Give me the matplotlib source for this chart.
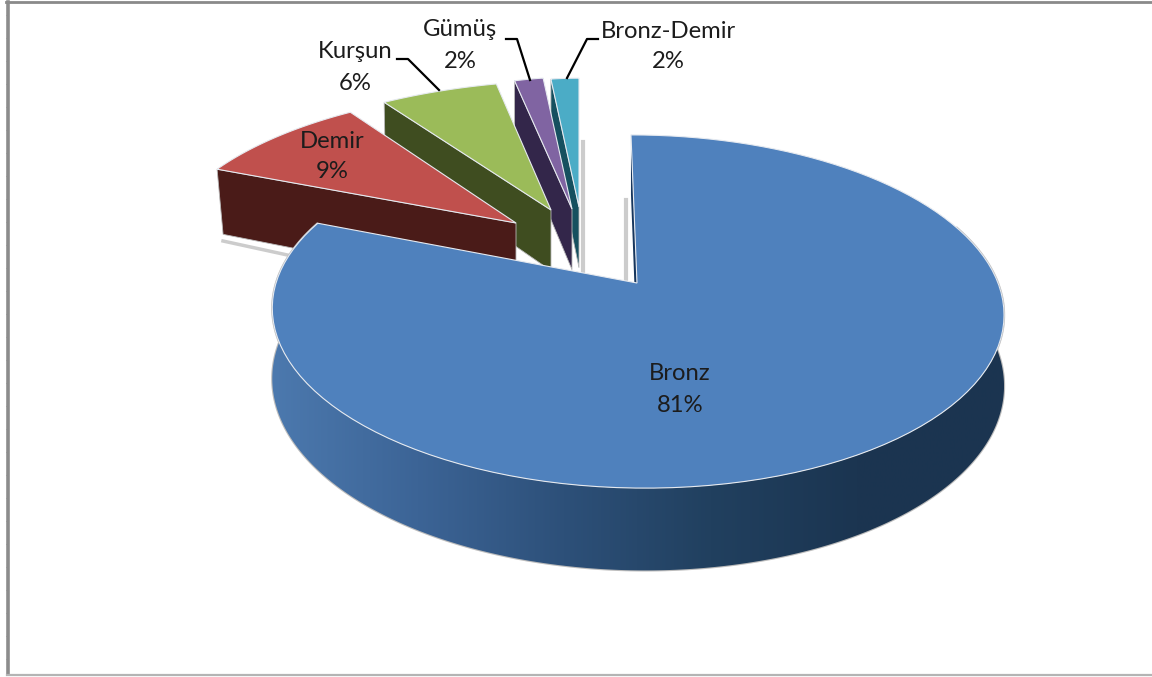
"""Exploded 3D-look pie of metal shares, drawn as projected polygons."""

from __future__ import annotations

import matplotlib

matplotlib.use("Agg")
import matplotlib.pyplot as plt
import numpy as np
from matplotlib.colors import LinearSegmentedColormap
from matplotlib.patches import Polygon

LABELS = ["Bronz", "Demir", "Kurşun", "Gümüş", "Bronz-Demir"]
SHARES = [81, 9, 6, 2, 2]

TOP_COLORS = ["#4f81bd", "#c0504d", "#9bbb59", "#8064a2", "#4bacc6"]
WALL_COLORS = ["#2c4d75", "#4a1b18", "#3f4d20", "#33264a", "#16505f"]

# Pixel-space projection of the pie disc: apex position and perspective terms.
APEX = (637.0, 283.0)
RADIUS_X = 361.0
RADIUS_Y = 172.0
PERSPECTIVE = 0.1615
DEPTH = 69.0
BACK_SKEW = -7.0

# Where each pulled-out slice sits, and how it is squeezed: apex x, apex y,
# x scale, shear of x with height, y scale, depth scale.
PLACEMENT = [
    (637, 283, 1.00, 0.00, 1.00, 1.00),
    (516, 223, 0.968, 0.13, 0.90, 1.00),
    (551, 210, 0.99, 0.154, 0.875, 0.88),
    (572, 209, 0.74, 0.0, 0.89, 0.88),
    (579, 207, 0.72, 0.0, 0.87, 0.88),
]
# Sideways lean of each cut face's outer edge as it drops.
WALL_LEAN = [0, 6, 1, 0, 0]

# Text anchors (centre x, name y, share y) and the elbow of each leader line.
TEXT_POS = [(680, 373, 405), (332, 142, 172), (355, 52, 84), (460, 30, 62), (668, 31, 62)]
LEADER_X = [None, None, (397, 408, 439), (506, 517, 530), (598, 587, 567)]
LEADER_Y = [None, None, (59, 59, 90), (39, 39, 80), (39, 39, 78)]


def project(angle_deg, placement, skew=0.0):
    """Map pie angles (clockwise from the back) to pixel positions."""
    apex_x, apex_y, scale_x, shear, scale_y, _ = placement
    angle = np.radians(angle_deg)
    u, v = np.sin(angle), np.cos(angle)
    w = 1 + PERSPECTIVE * v
    x = (RADIUS_X * u + skew * v) / w
    y = RADIUS_Y * v / w
    return apex_x + scale_x * x + shear * y, apex_y - scale_y * y, w


def draw_slice(axis, start, end, index):
    placement = PLACEMENT[index]
    apex = placement[:2]
    angles = np.linspace(start, end, 120)
    skew = BACK_SKEW if index == 0 else 0.0
    x, y, w = project(angles, placement, skew)
    depth = DEPTH * placement[5] / w
    top = np.column_stack([np.r_[apex[0], x], np.r_[apex[1], y]])
    # Later slices in SHARES sit further back, so they get lower layers.
    layer = 3 - index * 0.1

    if index > 0:
        wall = [
            (x[0], y[0]),
            apex,
            (apex[0], apex[1] + DEPTH * placement[5]),
            (x[0] + WALL_LEAN[index], y[0] + depth[0]),
        ]
        axis.add_patch(
            Polygon(wall, closed=True, facecolor=WALL_COLORS[index],
                    edgecolor="#b9b9b9", linewidth=0.6, zorder=layer)
        )
    return axis.add_patch(
        Polygon(top, closed=True, facecolor=TOP_COLORS[index],
                edgecolor="#e6eaf0", linewidth=0.8, zorder=layer + 0.05)
    )


def draw_blue_walls(axis, end):
    placement = PLACEMENT[0]
    angles = np.linspace(70, end, 300)
    x, y, w = project(angles, placement, BACK_SKEW)
    depth = DEPTH / w
    outline = np.column_stack([np.r_[x, x[::-1]], np.r_[y, (y + depth)[::-1]]])
    wall = Polygon(outline, closed=True, facecolor="none", edgecolor="#bcbcbc",
                   linewidth=1.6, zorder=3.2)
    axis.add_patch(wall)

    # Light-to-dark sweep across the outer wall, clipped to its outline.
    cmap = LinearSegmentedColormap.from_list(
        "wall", ["#4c79ae", "#3c6496", "#2d5079", "#21405f", "#1b3551", "#1b3450"]
    )
    sweep = np.linspace(0, 1, 256).reshape(1, -1)
    image = axis.imshow(sweep, extent=(271, 1004, 600, 130), cmap=cmap, aspect="auto", zorder=3.25)
    image.set_clip_path(Polygon(outline, closed=True, transform=axis.transData))

    # Sliver of the back cut face, seen just left of the blue edge.
    x0, y0, w0 = project(np.array([0.0]), placement, BACK_SKEW)
    sliver = [
        (x0[0], y0[0]),
        APEX,
        (APEX[0], APEX[1] + DEPTH),
        (x0[0], y0[0] + DEPTH / w0[0]),
    ]
    axis.add_patch(Polygon(sliver, closed=True, facecolor="#17365d", edgecolor="none", zorder=3.3))


def main() -> None:
    plt.rcParams["font.family"] = ["Lato", "DejaVu Sans"]
    figure = plt.figure(figsize=(11.52, 6.77), dpi=100, facecolor="white")
    axis = figure.add_axes([0, 0, 1, 1])

    # Soft cast shadows behind the slices.
    axis.plot([582.5, 582.5], [142, 272], color="#cccccc", linewidth=3, zorder=1)
    axis.plot([626, 626], [200, 282], color="#cccccc", linewidth=3, zorder=1)
    axis.plot([223, 292], [241, 256], color="#cccccc", linewidth=2.5, zorder=1)

    bounds = np.r_[0, np.cumsum(SHARES)] * 3.6
    draw_blue_walls(axis, bounds[1])
    big_slice = None
    for index in range(len(SHARES) - 1, -1, -1):
        big_slice = draw_slice(axis, bounds[index], bounds[index + 1], index)
    # The big slice sits in front of all the pulled-out ones.
    big_slice.set_zorder(6)

    for index, (label, share) in enumerate(zip(LABELS, SHARES)):
        x, y_name, y_share = TEXT_POS[index]
        axis.text(x, y_name, label, ha="center", va="center", fontsize=17.2, color="#1c1c1c", zorder=8)
        axis.text(x, y_share, f"{share}%", ha="center", va="center", fontsize=17.2, color="#1c1c1c", zorder=8)
        if LEADER_X[index]:
            axis.plot(LEADER_X[index], LEADER_Y[index], color="black", linewidth=1.6, zorder=7)

    # Chart frame: heavy left and top rules, faint bottom rule, no right side.
    axis.plot([7.5, 7.5], [2, 674], color="#8c8c8c", linewidth=2.6, zorder=9)
    axis.plot([6, 1152], [2, 2], color="#8a8a8a", linewidth=2.0, zorder=9)
    axis.plot([7, 1152], [674.5, 674.5], color="#b4b4b4", linewidth=1.6, zorder=9)
    axis.hlines(np.arange(15, 674, 23), 5.5, 6.5, color="#8c8c8c", linewidth=0.6, zorder=9)

    axis.set_xlim(0, 1152)
    axis.set_ylim(677, 0)
    axis.axis("off")
    figure.savefig("out.png", dpi=100, facecolor="white")
    plt.close(figure)


if __name__ == "__main__":
    main()
